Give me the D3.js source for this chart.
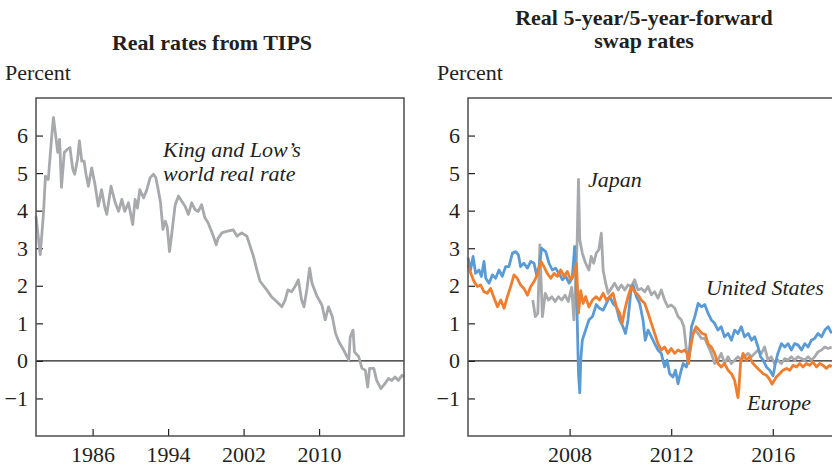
<!DOCTYPE html>
<html><head><meta charset="utf-8">
<script src="https://cdn.jsdelivr.net/npm/d3@7/dist/d3.min.js"></script>
<style>body{margin:0;background:#fff}svg{display:block}text{font-family:"Liberation Serif","Times New Roman",serif;fill:#231f20}</style>
</head><body><svg id="c" width="832" height="467"></svg>
<script>
// Left panel: King and Low's world real rate
const worldYears = [1980.0,1980.45,1980.8,1981.0,1981.3,1981.7,1981.85,1982.0,1982.3,1982.5,1982.7,1983.0,1983.3,1983.6,1983.9,1984.1,1984.4,1984.6,1984.85,1985.1,1985.3,1985.55,1985.9,1986.25,1986.6,1986.95,1987.3,1987.5,1987.95,1988.4,1988.75,1989.1,1989.4,1989.8,1990.25,1990.5,1990.75,1991.0,1991.4,1991.75,1992.1,1992.45,1992.7,1992.95,1993.2,1993.45,1993.7,1993.9,1994.15,1994.4,1994.75,1995.1,1995.45,1995.8,1996.15,1996.5,1996.85,1997.2,1997.55,1997.9,1998.25,1998.8,1999.1,1999.3,1999.7,2000.2,2000.9,2001.3,2001.8,2002.35,2002.7,2003.05,2003.4,2003.75,2004.45,2004.95,2005.5,2006.05,2006.4,2006.7,2007.1,2007.45,2007.8,2008.15,2008.4,2008.7,2009.0,2009.25,2009.8,2010.3,2010.65,2011.0,2011.4,2011.75,2012.1,2012.6,2013.15,2013.3,2013.6,2013.75,2014.2,2014.55,2014.9,2015.15,2015.35,2015.8,2016.1,2016.55,2017.0,2017.35,2017.7,2018.05,2018.4,2018.8,2019.0];
const worldRate = [3.85,2.83,3.95,4.92,4.83,6.08,6.48,6.17,5.55,5.9,4.62,5.55,5.63,5.68,5.1,4.97,5.37,5.86,5.32,5.32,4.97,4.65,5.14,4.7,4.12,4.56,4.08,3.9,4.65,4.21,3.98,4.3,3.98,4.21,3.63,4.3,4.07,4.56,4.34,4.56,4.88,4.97,4.88,4.56,4.21,3.5,3.72,3.58,2.91,3.41,4.16,4.39,4.25,4.12,3.9,4.21,4.03,3.98,4.16,3.81,3.67,3.32,3.09,3.27,3.41,3.45,3.49,3.32,3.41,3.32,3.05,2.78,2.43,2.12,1.89,1.71,1.58,1.44,1.62,1.89,1.84,1.98,2.16,1.62,1.44,1.89,2.47,2.07,1.71,1.49,1.09,1.44,1.18,0.73,0.51,0.29,0.02,0.64,0.82,0.24,0.11,-0.2,-0.25,-0.7,-0.2,-0.2,-0.52,-0.74,-0.6,-0.47,-0.52,-0.43,-0.52,-0.38,-0.43];

// Right panel: United States
const usYears = [2004.0,2004.1,2004.2,2004.3,2004.43,2004.53,2004.63,2004.7,2004.83,2004.96,2005.09,2005.22,2005.35,2005.48,2005.61,2005.75,2005.88,2005.98,2006.07,2006.2,2006.34,2006.47,2006.6,2006.7,2006.8,2006.9,2007.06,2007.19,2007.32,2007.45,2007.58,2007.72,2007.85,2007.98,2008.1,2008.2,2008.27,2008.35,2008.4,2008.44,2008.5,2008.63,2008.76,2008.9,2009.05,2009.18,2009.32,2009.45,2009.58,2009.71,2009.84,2009.97,2010.1,2010.2,2010.3,2010.43,2010.5,2010.63,2010.76,2010.89,2010.98,2011.09,2011.22,2011.35,2011.48,2011.61,2011.74,2011.84,2011.94,2012.07,2012.17,2012.27,2012.36,2012.47,2012.6,2012.71,2012.8,2012.93,2013.06,2013.19,2013.32,2013.45,2013.58,2013.71,2013.84,2013.97,2014.1,2014.24,2014.37,2014.5,2014.63,2014.76,2014.89,2015.03,2015.16,2015.29,2015.42,2015.52,2015.62,2015.75,2015.88,2016.01,2016.1,2016.2,2016.34,2016.47,2016.6,2016.73,2016.86,2017.0,2017.13,2017.26,2017.39,2017.52,2017.65,2017.78,2017.92,2018.05,2018.18,2018.32];
const usRate = [2.75,2.42,2.78,2.33,2.42,2.25,2.65,2.2,2.07,2.29,2.2,2.42,2.25,2.51,2.51,2.87,2.91,2.83,2.51,2.6,2.47,2.65,2.6,2.29,2.51,3.0,2.91,2.6,2.42,2.47,2.33,2.16,2.25,2.07,2.2,3.05,1.96,-0.34,-0.85,0.02,0.55,0.82,1.09,1.18,1.5,1.4,1.35,1.53,1.71,1.53,1.44,1.09,0.91,0.73,1.09,1.98,2.02,1.71,1.53,1.09,0.55,0.82,0.64,0.46,0.29,0.2,-0.16,0.02,-0.34,-0.43,-0.25,-0.61,-0.34,-0.07,-0.16,0.2,0.91,1.18,1.53,1.44,1.5,1.27,1.09,1.0,0.82,0.91,0.64,0.73,0.55,0.82,0.73,0.91,0.64,0.73,0.55,0.64,0.37,0.11,0.02,-0.16,-0.25,-0.4,-0.07,0.2,0.46,0.37,0.46,0.29,0.46,0.42,0.29,0.46,0.37,0.55,0.6,0.73,0.64,0.82,0.91,0.73];

// Right panel: Europe
const euYears = [2004.0,2004.11,2004.24,2004.37,2004.5,2004.63,2004.76,2004.89,2005.03,2005.16,2005.29,2005.42,2005.55,2005.68,2005.81,2005.94,2006.07,2006.2,2006.34,2006.47,2006.6,2006.73,2006.87,2006.99,2007.12,2007.26,2007.39,2007.52,2007.65,2007.78,2007.91,2008.04,2008.17,2008.27,2008.35,2008.44,2008.53,2008.63,2008.76,2008.9,2009.05,2009.18,2009.32,2009.45,2009.58,2009.71,2009.84,2009.97,2010.07,2010.17,2010.3,2010.43,2010.56,2010.69,2010.82,2010.96,2011.09,2011.22,2011.35,2011.48,2011.61,2011.74,2011.87,2012.0,2012.14,2012.27,2012.4,2012.53,2012.62,2012.68,2012.75,2012.86,2012.98,2013.1,2013.22,2013.35,2013.45,2013.58,2013.71,2013.84,2013.97,2014.1,2014.24,2014.37,2014.5,2014.57,2014.63,2014.67,2014.73,2014.83,2014.96,2015.09,2015.22,2015.35,2015.48,2015.62,2015.75,2015.88,2015.97,2016.14,2016.27,2016.4,2016.54,2016.67,2016.8,2016.93,2017.06,2017.19,2017.32,2017.45,2017.58,2017.72,2017.85,2017.98,2018.11,2018.24,2018.32];
const euRate = [2.56,2.33,2.11,1.98,2.02,1.84,1.8,1.93,1.67,1.44,1.62,1.4,1.71,1.98,2.29,2.2,2.02,1.93,1.75,1.98,2.11,2.29,2.65,2.51,2.33,2.2,2.33,2.25,2.42,2.25,2.38,2.16,2.29,2.6,1.27,1.87,1.53,1.71,1.44,1.62,1.71,1.62,1.8,1.62,1.71,1.8,1.44,1.27,1.0,1.35,1.71,1.98,1.84,1.76,1.62,1.53,1.27,1.0,0.73,0.46,0.29,0.37,0.2,0.33,0.2,0.29,0.24,0.29,0.2,-0.07,0.29,0.73,0.91,0.82,0.73,0.7,0.45,0.37,0.2,-0.07,-0.16,-0.07,-0.25,-0.34,-0.52,-0.78,-0.98,-0.7,-0.07,0.2,0.02,0.11,-0.07,-0.16,-0.25,-0.34,-0.38,-0.5,-0.62,-0.43,-0.34,-0.25,-0.2,-0.25,-0.12,-0.16,-0.07,-0.16,-0.07,-0.12,-0.03,-0.16,-0.07,-0.12,-0.2,-0.12,-0.16];

// Right panel: Japan
const jpYears = [2006.55,2006.65,2006.75,2006.83,2006.88,2006.93,2007.04,2007.17,2007.3,2007.43,2007.56,2007.69,2007.82,2007.95,2008.08,2008.17,2008.24,2008.3,2008.35,2008.4,2008.5,2008.63,2008.76,2008.85,2008.95,2009.05,2009.15,2009.25,2009.32,2009.42,2009.52,2009.64,2009.77,2009.91,2010.04,2010.17,2010.3,2010.43,2010.56,2010.69,2010.82,2010.96,2011.09,2011.22,2011.35,2011.48,2011.61,2011.74,2011.87,2012.0,2012.14,2012.27,2012.4,2012.5,2012.6,2012.7,2012.78,2012.93,2013.06,2013.19,2013.32,2013.45,2013.58,2013.71,2013.84,2013.97,2014.1,2014.24,2014.37,2014.5,2014.63,2014.76,2014.89,2015.03,2015.16,2015.29,2015.42,2015.55,2015.68,2015.81,2015.94,2016.07,2016.2,2016.34,2016.47,2016.6,2016.73,2016.86,2016.99,2017.13,2017.26,2017.39,2017.52,2017.65,2017.78,2017.92,2018.05,2018.18,2018.32];
const jpRate = [1.62,1.18,1.27,3.09,2.07,1.18,1.8,1.62,1.71,1.58,1.71,1.62,1.75,1.58,1.96,1.09,2.16,3.23,4.83,3.23,2.87,2.6,2.42,2.78,2.6,2.87,2.96,3.4,2.42,2.07,1.8,1.93,2.07,1.89,2.02,1.89,2.02,1.98,2.16,1.89,1.93,1.84,1.98,1.76,1.84,1.67,1.89,1.62,1.44,1.49,1.4,1.18,1.09,0.91,0.29,0.11,0.55,0.82,0.73,0.6,0.6,0.4,0.2,-0.07,0.02,0.2,-0.07,0.11,-0.07,0.02,0.11,0.02,0.11,0.2,0.11,0.2,0.29,0.2,0.37,0.02,0.11,-0.07,0.02,-0.07,0.06,0.02,0.11,0.02,0.11,0.06,0.02,0.11,0.02,0.11,0.24,0.29,0.37,0.33,0.37];

const yTicks = [-1,0,1,2,3,4,5,6];
const leftXTicks = [1986,1994,2002,2010];
const rightXTicks = [2008,2012,2016];

const svg = d3.select("#c");
const ink = "#231f20";
const plotTop = 98, plotBottom = 436;
const y = d3.scaleLinear().domain([-2,7]).range([plotBottom, plotTop]);
const fs = 22;

function zip(xs, vs){ return xs.map((d,i)=>[d, vs[i]]); }

function panel(x0, x1, xDomain, xTicks, closedRight){
  const x = d3.scaleLinear().domain(xDomain).range([x0, x1]);
  const g = svg.append("g");
  const ya = g.append("g").attr("transform",`translate(${x0},0)`)
    .call(d3.axisLeft(y).tickValues(yTicks).tickSize(-7).tickPadding(8)
      .tickFormat(d => d < 0 ? "\u2212" + Math.abs(d) : d));
  ya.select(".domain").remove();
  ya.selectAll("line").attr("stroke", ink).attr("stroke-width",1.2);
  ya.selectAll("text").attr("font-size",fs).attr("fill",ink).attr("font-family","Liberation Serif");
  const xa = g.append("g").attr("transform",`translate(0,${plotBottom})`)
    .call(d3.axisBottom(x).tickValues(xTicks).tickSize(-7).tickPadding(10).tickFormat(d3.format("d")));
  xa.select(".domain").remove();
  xa.selectAll("line").attr("stroke", ink).attr("stroke-width",1.2);
  xa.selectAll("text").attr("font-size",fs).attr("fill",ink).attr("font-family","Liberation Serif");
  g.append("line").attr("x1",x0).attr("x2",x1).attr("y1",y(0)).attr("y2",y(0))
    .attr("stroke",ink).attr("stroke-width",1.2);
  return {x, g, frame: () => {
    const p = closedRight
      ? `M${x0},${plotTop}H${x1}V${plotBottom}H${x0}Z`
      : `M${x1},${plotTop}H${x0}V${plotBottom}H${x1}`;
    g.append("path").attr("d",p).attr("fill","none").attr("stroke","#4d4d4f").attr("stroke-width",1.5);
  }};
}

// Left panel
const L = panel(36, 404, [1980,2019], leftXTicks, true);
const lineL = d3.line().x(d=>L.x(d[0])).y(d=>y(d[1]));
L.g.append("path").datum(zip(worldYears, worldRate)).attr("d", lineL)
  .attr("fill","none").attr("stroke","#a7a9ac").attr("stroke-width",2.8).attr("stroke-linejoin","round");
L.frame();

// Right panel
const R = panel(468, 850, [2004, 2019.04], rightXTicks, false);
const lineR = d3.line().x(d=>R.x(d[0])).y(d=>y(d[1]));
[[jpYears,jpRate,"#a7a9ac"],[usYears,usRate,"#5b9bd5"],[euYears,euRate,"#ef7f2f"]].forEach(([xs,vs,c])=>{
  R.g.append("path").datum(zip(xs,vs)).attr("d", lineR)
    .attr("fill","none").attr("stroke",c).attr("stroke-width",2.8).attr("stroke-linejoin","round");
});
R.frame();

// Titles
svg.append("text").attr("x",212).attr("y",50).attr("text-anchor","middle")
  .attr("font-size",fs).attr("font-weight","bold").text("Real rates from TIPS");
svg.append("text").attr("x",644).attr("y",25).attr("text-anchor","middle")
  .attr("font-size",fs).attr("font-weight","bold").text("Real 5-year/5-year-forward");
svg.append("text").attr("x",644).attr("y",48).attr("text-anchor","middle")
  .attr("font-size",fs).attr("font-weight","bold").text("swap rates");
svg.append("text").attr("x",5).attr("y",80).attr("font-size",fs).text("Percent");
svg.append("text").attr("x",437).attr("y",80).attr("font-size",fs).text("Percent");

// Annotations
const ann = [["King and Low\u2019s",163,157],["world real rate",163,181],["Japan",588,187],["United States",706,295],["Europe",747,410]];
ann.forEach(([t,ax,ay]) => svg.append("text").attr("x",ax).attr("y",ay)
  .attr("font-size",fs).attr("font-style","italic").text(t));
</script></body></html>
